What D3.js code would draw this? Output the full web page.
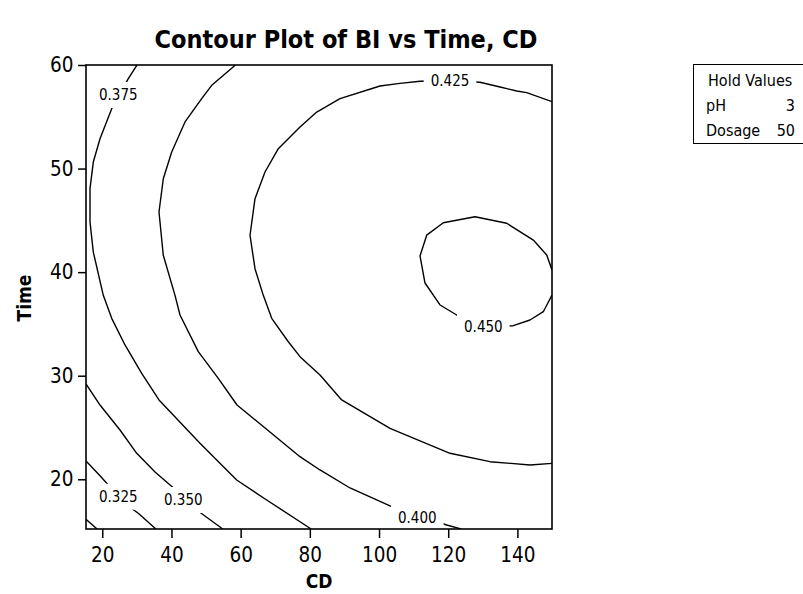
<!DOCTYPE html>
<html>
<head>
<meta charset="utf-8">
<script src="https://cdn.jsdelivr.net/npm/d3@7"></script>
<style>
  body { margin: 0; background: #fff; }
  svg text { font-family: "DejaVu Sans Condensed", "DejaVu Sans", sans-serif; font-stretch: condensed; fill: #000; }
</style>
</head>
<body>
<svg id="chart" width="803" height="594"></svg>
<script>
// Axis ticks
const cdTicks = [20, 40, 60, 80, 100, 120, 140];
const timeTicks = [20, 30, 40, 50, 60];

// Contour lines of BI, each traced as [CD, Time] points
const bi300 = [[15.3, 16.14], [18.5, 15.2]];
const bi325 = [[15.3, 21.77], [18.6, 20.6], [22.04, 19.35], [27.53, 17.42], [30.5, 16.7], [35.25, 15.27], [35.45, 15.2]];
const bi350 = [[15.3, 29.20], [19.35, 27.17], [25.13, 24.76], [29.96, 22.51], [35.25, 20.70], [41.03, 19.03],
               [47.30, 17.03], [54.53, 15.27], [54.76, 15.2]];
const bi375 = [[30.04, 60.0], [27.53, 58.68], [22.73, 55.78], [19.35, 52.88], [17.41, 50.63], [16.46, 48.06],
               [16.46, 44.84], [17.41, 41.94], [20.30, 37.76], [22.73, 35.54], [26.57, 32.97], [31.40, 30.23],
               [36.40, 27.66], [48.25, 23.47], [58.86, 19.93], [67.53, 18.0], [80.05, 15.27], [80.34, 15.2]];
const bi400 = [[58.51, 60.0], [51.64, 58.04], [48.74, 56.75], [43.92, 54.50], [40.07, 51.60], [37.64, 49.02],
               [36.40, 45.81], [37.64, 41.63], [41.03, 37.76], [42.47, 35.86], [47.76, 32.32], [53.54, 29.75],
               [58.95, 27.17], [77.16, 22.18], [82.94, 20.90], [91.61, 19.16], [103.66, 17.35], [119.56, 15.59],
               [123.41, 15.23], [123.70, 15.2]];
const bi425 = [[150.0, 56.46], [142.69, 57.33], [139.80, 57.49], [134.97, 57.88], [129.19, 58.33], [120.52, 58.48],
               [111.85, 58.43], [106.06, 58.23], [100.28, 57.97], [88.72, 56.75], [81.99, 55.46], [77.16, 54.01],
               [70.89, 51.92], [67.04, 49.67], [64.15, 47.09], [62.71, 43.56], [64.15, 40.33], [66.55, 37.76],
               [68.98, 35.54], [73.78, 33.28], [77.16, 31.84], [82.94, 30.07], [89.21, 27.66], [103.18, 24.92],
               [120.52, 22.51], [132.08, 21.70], [143.64, 21.38], [150.0, 21.54]];
const bi450 = [[150.0, 40.21], [148.47, 41.66], [144.60, 43.10], [136.91, 44.72], [127.75, 45.35], [118.58, 44.77],
               [113.78, 43.57], [111.85, 41.56], [113.29, 38.95], [117.63, 36.83], [122.46, 35.86], [130.6, 34.70],
               [138.81, 34.83], [143.64, 35.38], [147.49, 36.18], [150.0, 37.79]];

const contours = [
  { level: 0.300, points: bi300, label: null },
  { level: 0.325, points: bi325, label: [24.64, 18.32] },
  { level: 0.350, points: bi350, label: [43.43, 18.0] },
  { level: 0.375, points: bi375, label: [24.64, 57.10] },
  { level: 0.400, points: bi400, label: [111.07, 16.23] },
  { level: 0.425, points: bi425, label: [120.52, 58.48] },
  { level: 0.450, points: bi450, label: [130.15, 34.73] }
];

// Factors held fixed
const holdNames = ["pH", "Dosage"];
const holdValues = [3, 50];

const svg = d3.select("#chart");

const x = d3.scaleLinear().domain([15.3, 150]).range([86, 552]);
const y = d3.scaleLinear().domain([15.2, 60]).range([529, 65]);

// Title
svg.append("text")
  .attr("x", 346).attr("y", 48)
  .attr("text-anchor", "middle")
  .style("font-size", "25px").style("font-weight", "bold")
  .text("Contour Plot of BI vs Time, CD");

// Axes
const xAxis = svg.append("g")
  .attr("transform", `translate(0,${y.range()[0]})`)
  .call(d3.axisBottom(x).tickValues(cdTicks).tickSize(9).tickPadding(9).tickFormat(d3.format("d")));
const yAxis = svg.append("g")
  .attr("transform", `translate(${x.range()[0]},0)`)
  .call(d3.axisLeft(y).tickValues(timeTicks).tickSize(8).tickPadding(4.5).tickFormat(d3.format("d")));
[xAxis, yAxis].forEach(g => {
  g.select(".domain").remove();
  g.selectAll(".tick line").attr("stroke", "#000").attr("stroke-width", 1.5);
  g.selectAll(".tick text").style("font-size", "20.5px").attr("fill", "#000");
});

// Axis titles
svg.append("text")
  .attr("x", 319).attr("y", 588)
  .attr("text-anchor", "middle")
  .style("font-size", "19px").style("font-weight", "bold")
  .text("CD");
svg.append("text")
  .attr("transform", "translate(31,298) rotate(-90)")
  .attr("text-anchor", "middle")
  .style("font-size", "19px").style("font-weight", "bold")
  .text("Time");

// Contour labels (drawn first so their boxes can cut gaps in the lines)
const fmt = d3.format(".3f");
const labelG = svg.append("g");
const labels = labelG.selectAll("text")
  .data(contours.filter(c => c.label))
  .join("text")
  .attr("x", d => x(d.label[0]))
  .attr("y", d => y(d.label[1]))
  .attr("text-anchor", "middle")
  .attr("dominant-baseline", "central")
  .style("font-size", "15px")
  .text(d => fmt(d.level));

const defs = svg.append("defs");
const mask = defs.append("mask").attr("id", "label-gaps").attr("maskUnits", "userSpaceOnUse");
mask.append("rect").attr("x", 0).attr("y", 0).attr("width", 803).attr("height", 594).attr("fill", "#fff");
labels.each(function () {
  const b = this.getBBox();
  mask.append("rect")
    .attr("x", b.x - 7).attr("y", b.y - 4)
    .attr("width", b.width + 14).attr("height", b.height + 8)
    .attr("fill", "#000");
});

const clip = defs.append("clipPath").attr("id", "plot-clip");
clip.append("rect")
  .attr("x", x.range()[0]).attr("y", y.range()[1])
  .attr("width", x.range()[1] - x.range()[0])
  .attr("height", y.range()[0] - y.range()[1]);

const line = d3.line().x(d => x(d[0])).y(d => y(d[1]));
svg.append("g")
  .attr("clip-path", "url(#plot-clip)")
  .append("g")
  .attr("mask", "url(#label-gaps)")
  .selectAll("path")
  .data(contours)
  .join("path")
  .attr("d", d => line(d.points))
  .attr("fill", "none")
  .attr("stroke", "#000")
  .attr("stroke-width", 1.4)
  .attr("stroke-linejoin", "round");

// Plot frame
svg.append("rect")
  .attr("x", x.range()[0]).attr("y", y.range()[1])
  .attr("width", x.range()[1] - x.range()[0])
  .attr("height", y.range()[0] - y.range()[1])
  .attr("fill", "none").attr("stroke", "#000").attr("stroke-width", 1.6);

// Hold values box
const hold = svg.append("g");
hold.append("rect")
  .attr("x", 693.5).attr("y", 64.5).attr("width", 120).attr("height", 79)
  .attr("fill", "none").attr("stroke", "#000").attr("stroke-width", 1);
hold.append("text").attr("x", 708).attr("y", 86).style("font-size", "16px").text("Hold Values");
holdNames.forEach((n, i) => {
  hold.append("text").attr("x", 706).attr("y", 111 + i * 25).style("font-size", "16px").text(n);
  hold.append("text").attr("x", 795).attr("y", 111 + i * 25).attr("text-anchor", "end")
    .style("font-size", "16px").text(holdValues[i]);
});
</script>
</body>
</html>
